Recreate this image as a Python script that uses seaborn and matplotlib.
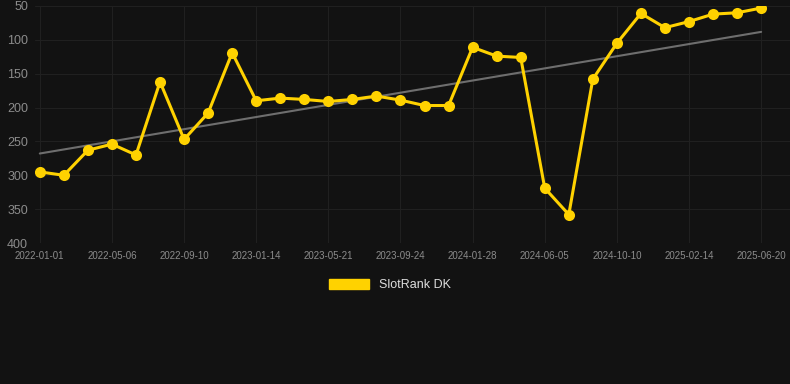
import numpy as np
import pandas as pd
import matplotlib
matplotlib.use("Agg")
import matplotlib.pyplot as plt
import seaborn as sns
from matplotlib.patches import Patch

# --- data ---
tick_dates = ["2022-01-01", "2022-05-06", "2022-09-10", "2023-01-14", "2023-05-21",
              "2023-09-24", "2024-01-28", "2024-06-05", "2024-10-10", "2025-02-14",
              "2025-06-20"]
rank = [295, 300, 263, 254, 270, 162, 247, 208, 119, 190, 186,
        188, 191, 188, 183, 189, 197, 197, 111, 124, 126, 319,
        358, 158, 105, 61, 82, 73, 62, 60, 53]
series_name = "SlotRank DK"

BG = "#121212"
GOLD = "#FFD200"

df = pd.DataFrame({"idx": np.arange(len(rank)), "rank": rank})

sns.set_theme(style="dark")
plt.rcParams["font.family"] = ["Liberation Sans", "DejaVu Sans"]

fig = plt.figure(figsize=(7.9, 3.84), dpi=100, facecolor=BG)
ax = fig.add_axes([35 / 790, 1 - 243 / 384, 755 / 790, 237 / 384])
ax.set_facecolor(BG)

# trend line (least squares)
coef = np.polyfit(df["idx"], df["rank"], 1)
df["trend"] = np.polyval(coef, df["idx"])
sns.lineplot(data=df, x="idx", y="trend", ax=ax, color="#6e6e6e", linewidth=1.5, zorder=2)

sns.lineplot(data=df, x="idx", y="rank", ax=ax, color=GOLD, linewidth=2.2,
             marker="o", markersize=8, markeredgewidth=0, zorder=3)

ax.set_ylim(400, 50)
ax.set_xlim(-0.2, 31.2)
ax.set_yticks([50, 100, 150, 200, 250, 300, 350, 400])
ax.set_xticks(np.arange(0, len(rank), 3))
ax.set_xticklabels(tick_dates)
ax.set_xlabel("")
ax.set_ylabel("")
ax.grid(True, color="#202020", linewidth=0.8)
for s in ax.spines.values():
    s.set_visible(False)
ax.tick_params(axis="y", colors="#8c8c8c", labelsize=9, length=0, pad=5)
ax.tick_params(axis="x", colors="#8c8c8c", labelsize=7, length=0, pad=6)

fig.legend(handles=[Patch(facecolor=GOLD, edgecolor=GOLD, label=series_name)],
           loc="center", bbox_to_anchor=(390 / 790, 1 - 285 / 384), frameon=False,
           handlelength=3.2, handleheight=0.8, fontsize=9, labelcolor="#dddddd")

fig.savefig("out.png", dpi=100, facecolor=BG)
